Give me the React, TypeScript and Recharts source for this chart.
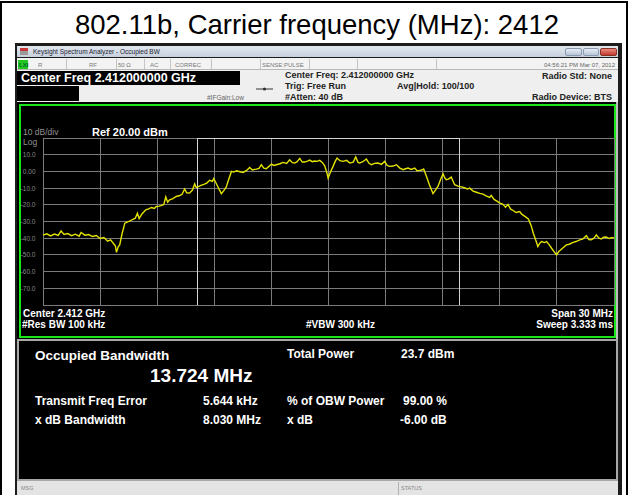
import React from 'react';
import { LineChart, Line, XAxis, YAxis, CartesianGrid, ReferenceLine } from 'recharts';

// trace: [offset from 2412 MHz, level dBm]
const trace: [number, number][] = [
  [-15.0, -38.2], [-14.8, -37.4], [-14.6, -38.6], [-14.4, -37.5], [-14.2, -38.3], [-14.05, -35.6],
  [-13.9, -37.8], [-13.7, -37.2], [-13.5, -38.5], [-13.3, -37.6], [-13.1, -38.8], [-13.0, -36.6],
  [-12.8, -38.2], [-12.6, -37.8], [-12.4, -39.0], [-12.2, -38.4], [-12.0, -40.2], [-11.8, -39.6],
  [-11.6, -41.8], [-11.45, -41.0], [-11.3, -43.2], [-11.2, -44.5], [-11.14, -48.5], [-11.05, -45.2],
  [-10.97, -44.0], [-10.85, -37.5], [-10.7, -31.0], [-10.55, -30.2], [-10.45, -29.8], [-10.3, -28.8],
  [-10.15, -28.0], [-10.04, -25.0], [-9.95, -28.2], [-9.8, -25.5], [-9.6, -23.0], [-9.45, -22.4],
  [-9.3, -21.6], [-9.15, -22.2], [-9.05, -21.0], [-8.9, -20.8], [-8.8, -20.5], [-8.65, -19.8],
  [-8.55, -15.3], [-8.45, -18.4], [-8.35, -17.0], [-8.2, -16.4], [-8.0, -15.0], [-7.85, -14.6],
  [-7.7, -13.8], [-7.56, -10.5], [-7.45, -12.8], [-7.3, -13.0], [-7.15, -11.2], [-7.03, -7.5],
  [-6.95, -9.6], [-6.86, -9.3], [-6.7, -8.4], [-6.55, -7.8], [-6.4, -7.0], [-6.24, -5.3],
  [-6.1, -6.0], [-6.03, -4.3], [-5.93, -6.5], [-5.8, -9.5], [-5.63, -13.3], [-5.5, -11.5],
  [-5.37, -9.3], [-5.22, -4.0], [-5.1, 0.0], [-4.97, -0.4], [-4.84, 0.4], [-4.65, -0.2],
  [-4.49, -0.6], [-4.3, 0.6], [-4.14, 2.4], [-4.0, 0.9], [-3.79, 1.4], [-3.65, 1.8],
  [-3.53, 4.0], [-3.4, 2.0], [-3.27, 1.6], [-3.13, 3.0], [-3.0, 4.4], [-2.87, 3.6],
  [-2.74, 4.0], [-2.55, 4.6], [-2.39, 5.4], [-2.2, 4.8], [-2.04, 7.0], [-1.9, 5.2],
  [-1.78, 5.0], [-1.65, 5.8], [-1.51, 7.8], [-1.38, 5.6], [-1.25, 5.6], [-1.1, 6.2],
  [-0.99, 6.8], [-0.85, 5.8], [-0.73, 6.2], [-0.6, 6.0], [-0.46, 6.6], [-0.33, 5.4],
  [-0.2, 3.4], [-0.08, -1.0], [-0.02, -4.0], [0.1, -0.5], [0.24, 3.0], [0.35, 6.0],
  [0.45, 8.0], [0.6, 6.4], [0.77, 6.0], [0.95, 6.6], [1.12, 5.0], [1.3, 5.6],
  [1.43, 8.6], [1.55, 5.4], [1.64, 5.0], [1.8, 5.8], [1.99, 7.4], [2.12, 5.0],
  [2.25, 4.0], [2.42, 4.8], [2.6, 5.0], [2.78, 4.2], [2.95, 6.0], [3.08, 3.6],
  [3.22, 3.0], [3.4, 3.2], [3.57, 4.0], [3.75, 2.0], [3.92, 1.0], [4.05, 1.6],
  [4.18, 2.0], [4.35, 1.2], [4.53, 2.0], [4.65, 0.4], [4.79, 0.6], [4.9, 0.8],
  [5.0, 1.4], [5.15, -3.0], [5.3, -8.0], [5.49, -13.3], [5.6, -11.5], [5.75, -9.0],
  [5.9, -4.5], [6.02, -1.4], [6.1, -3.8], [6.19, -5.0], [6.3, -4.6], [6.45, -3.4],
  [6.55, -6.0], [6.63, -8.0], [6.8, -8.8], [6.98, -9.3], [7.15, -9.8], [7.3, -10.6],
  [7.42, -10.0], [7.6, -11.8], [7.77, -12.5], [7.95, -13.2], [8.12, -13.6], [8.3, -14.8],
  [8.47, -15.6], [8.55, -14.4], [8.7, -16.8], [8.85, -17.8], [9.0, -19.0], [9.15, -19.6],
  [9.3, -21.4], [9.43, -19.8], [9.57, -22.6], [9.7, -23.4], [9.85, -24.6], [10.05, -24.0],
  [10.15, -25.6], [10.3, -26.8], [10.5, -28.5], [10.65, -32.5], [10.76, -37.0], [10.9, -41.5],
  [11.0, -45.0], [11.1, -43.0], [11.2, -42.0], [11.35, -42.6], [11.46, -42.0], [11.6, -44.0],
  [11.72, -46.0], [11.85, -48.0], [11.98, -50.0], [12.1, -48.0], [12.25, -46.5], [12.4, -45.0],
  [12.5, -44.0], [12.65, -43.6], [12.85, -42.5], [13.0, -42.0], [13.2, -41.0], [13.35, -40.6],
  [13.55, -38.5], [13.68, -40.8], [13.8, -41.0], [13.95, -40.0], [14.07, -38.0], [14.2, -39.8],
  [14.33, -40.5], [14.45, -39.4], [14.59, -39.3], [14.75, -40.2], [14.9, -39.6], [15.0, -40.0],
];

const xTicks = [-15, -12, -9, -6, -3, 0, 3, 6, 9, 12, 15];
const yTicks = [20, 10, 0, -10, -20, -30, -40, -50, -60, -70, -80];
const yTickLabels: Record<number, string> = {
  10: '10.0', 0: '0.00', [-10]: '-10.0', [-20]: '-20.0', [-30]: '-30.0',
  [-40]: '-40.0', [-50]: '-50.0', [-60]: '-60.0', [-70]: '-70.0',
};
const obwEdges = [-6.862, 6.862]; // 13.724 MHz occupied bandwidth

const statusCells = ['R', 'RF', '50 Ω', 'AC', 'CORREC', 'SENSE:PULSE'];

const data = trace.map(([f, p]) => ({ f, p }));

const FONT = '"Liberation Sans", Arial, sans-serif';
const GRID = '#7a7a7a';

function T({ x, y, size, color = '#fff', bold = false, right = false, children }: any) {
  const style: any = {
    position: 'absolute',
    top: y - size * 0.5,
    fontSize: size,
    lineHeight: `${size}px`,
    color,
    fontWeight: bold ? 700 : 400,
    whiteSpace: 'nowrap',
  };
  if (right) {
    style.right = 629 - x;
    style.textAlign = 'right';
  } else {
    style.left = x;
  }
  return <div style={style}>{children}</div>;
}

function Box({ x, y, w, h, bg, style }: any) {
  return <div style={{ position: 'absolute', left: x, top: y, width: w, height: h, background: bg, boxSizing: 'border-box', ...style }} />;
}

const YTick = ({ y, payload }: any) => (
  <text x={14.5} y={y} textAnchor="end" dominantBaseline="central" fill="#8a8a8a" fontSize={6.5} fontFamily={FONT}>
    {yTickLabels[payload.value] ?? ''}
  </text>
);

export default function App() {
  return (
    <div style={{ position: 'absolute', left: 0, top: 0, width: 629, height: 495, background: '#fff', overflow: 'hidden', fontFamily: FONT }}>
      {/* outer frame + caption */}
      <Box x={0} y={1} w={628} h={520} bg="transparent" style={{ border: '2px solid #000' }} />
      <div style={{ position: 'absolute', left: 0, width: 634, top: 10.7, fontSize: 27.5, lineHeight: '27.5px', textAlign: 'center', color: '#000' }}>
        802.11b, Carrier frequency (MHz): 2412
      </div>

      {/* analyzer window */}
      <Box x={15} y={43} w={607} h={452} bg="#1c1c1c" />
      <Box x={17} y={46} w={601} h={11} bg="linear-gradient(#e2e8f0, #c6d0dc)" />
      <Box x={20} y={48} w={8} h={7} bg="linear-gradient(#c8383a 0 45%, #9a9a9a 45%)" />
      <T x={33} y={52} size={6.5} color="#223">Keysight Spectrum Analyzer - Occupied BW</T>
      <Box x={565} y={48} w={17} h={8} bg="linear-gradient(#e4ecf6, #b8c6d8)" style={{ border: '1px solid #8a9ab0', borderRadius: 2 }} />
      <Box x={583} y={48} w={16} h={8} bg="linear-gradient(#e4ecf6, #b8c6d8)" style={{ border: '1px solid #8a9ab0', borderRadius: 2 }} />
      <Box x={600} y={48} w={17} h={8} bg="linear-gradient(#e88a80, #c23a2e)" style={{ border: '1px solid #8a3020', borderRadius: 2 }} />

      {/* status row */}
      <Box x={17} y={58} w={601} h={12} bg="#f3f3f3" style={{ borderBottom: '1px solid #b8b8b8' }} />
      {[66, 116, 144, 170, 211, 260, 309, 357, 436].map((sx) => (
        <Box key={sx} x={sx} y={59} w={1} h={10} bg="#c4c4c4" />
      ))}
      <Box x={18} y={60} w={10} h={9} bg="#22c722" />
      <T x={19} y={64.5} size={6} color="#063" bold>LXI</T>
      {statusCells.map((s, i) => (
        <T key={s} x={[38, 89, 118, 150, 175, 262][i]} y={64.5} size={6} color="#777">{s}</T>
      ))}
      <T x={615} y={64.5} size={6} color="#666" right>04:56:21 PM Mar 07, 2012</T>

      {/* header */}
      <Box x={17} y={70} w={601} h={33} bg="#efefef" />
      <Box x={17} y={71} w={223} h={14} bg="#000" />
      <T x={21} y={78} size={12.5} bold>Center Freq 2.412000000 GHz</T>
      <Box x={17} y={86} w={62} h={15} bg="#000" />
      <T x={207} y={98} size={6.5} color="#666">#IFGain:Low</T>
      <svg style={{ position: 'absolute', left: 256, top: 86 }} width={17} height={6}>
        <line x1={0} y1={3} x2={17} y2={3} stroke="#333" strokeWidth={1} />
        <circle cx={8.5} cy={3} r={1.6} fill="#333" />
      </svg>
      <T x={285} y={75} size={9} color="#222" bold>Center Freq: 2.412000000 GHz</T>
      <T x={285} y={86} size={9} color="#222" bold>Trig: Free Run</T>
      <T x={285} y={97} size={9} color="#222" bold>#Atten: 40 dB</T>
      <T x={397} y={86} size={9} color="#222" bold>Avg|Hold: 100/100</T>
      <T x={612} y={76} size={9} color="#222" bold right>Radio Std: None</T>
      <T x={612} y={97} size={9} color="#222" bold right>Radio Device: BTS</T>

      {/* trace panel */}
      <Box x={17} y={102} w={601} h={237} bg="#000" />
      <Box x={616} y={102} w={2} h={379} bg="#bdbdbd" />
      <Box x={19} y={104} w={597} h={234} bg="transparent" style={{ border: '2px solid #19e619' }} />
      <T x={23} y={132} size={8.5} color="#909090">10 dB/div</T>
      <T x={92} y={132} size={11} bold>Ref 20.00 dBm</T>
      <T x={23} y={142.5} size={8.5} color="#909090">Log</T>

      <div style={{ position: 'absolute', left: 21, top: 106 }}>
        <LineChart width={594} height={230} data={data} margin={{ top: 32, right: 1, bottom: 31, left: 0 }}>
          <CartesianGrid stroke={GRID} strokeWidth={1} vertical={false} shapeRendering="crispEdges" />
          <XAxis type="number" dataKey="f" domain={[-15, 15]} ticks={xTicks} interval={0} height={0} axisLine={false} tickLine={false} tick={false} />
          <YAxis type="number" domain={[-80, 20]} ticks={yTicks} interval={0} width={22} axisLine={false} tickLine={false} tick={<YTick />} />
          {/* 3 MHz divisions */}
          {xTicks.map((t) => (
            <ReferenceLine key={`v${t}`} x={t} stroke={GRID} strokeWidth={1} shapeRendering="crispEdges" ifOverflow="extendDomain" />
          ))}
          {obwEdges.map((e) => (
            <ReferenceLine key={e} x={e} stroke="#d4d4d4" strokeWidth={1} shapeRendering="crispEdges" />
          ))}
          <ReferenceLine segment={[{ x: obwEdges[0], y: 20 }, { x: obwEdges[1], y: 20 }]} stroke="#d4d4d4" strokeWidth={1} shapeRendering="crispEdges" />
          <Line type="linear" dataKey="p" stroke="#e3e300" strokeWidth={1.4} dot={false} isAnimationActive={false} />
        </LineChart>
      </div>

      <T x={23} y={314} size={10} bold>Center  2.412 GHz</T>
      <T x={22} y={324.5} size={10} bold>#Res BW  100 kHz</T>
      <T x={306} y={324.5} size={10} bold>#VBW  300 kHz</T>
      <T x={613} y={314} size={10} bold right>Span 30 MHz</T>
      <T x={613} y={324.5} size={10} bold right>Sweep  3.333 ms</T>

      {/* measurement panel */}
      <Box x={17} y={339} w={601} h={142} bg="#000" style={{ border: '2px solid #a8a8a8' }} />
      <T x={35} y={356} size={13.5} bold>Occupied Bandwidth</T>
      <T x={150} y={375} size={19} bold>13.724 MHz</T>
      <T x={35} y={401} size={12} bold>Transmit Freq Error</T>
      <T x={203} y={401} size={12} bold>5.644 kHz</T>
      <T x={35} y={420} size={12} bold>x dB Bandwidth</T>
      <T x={203} y={420} size={12} bold>8.030 MHz</T>
      <T x={287} y={354} size={12} bold>Total Power</T>
      <T x={401} y={354} size={12} bold>23.7 dBm</T>
      <T x={287} y={401} size={12} bold>% of OBW Power</T>
      <T x={403} y={401} size={12} bold>99.00 %</T>
      <T x={287} y={420} size={12} bold>x dB</T>
      <T x={400} y={420} size={12} bold>-6.00 dB</T>

      {/* message bar */}
      <Box x={17} y={481} w={601} h={14} bg="#e4e4e4" />
      <Box x={398} y={482} w={1} h={13} bg="#b0b0b0" />
      <T x={21} y={489} size={5.5} color="#888">MSG</T>
      <T x={401} y={489} size={5.5} color="#888">STATUS</T>
    </div>
  );
}
